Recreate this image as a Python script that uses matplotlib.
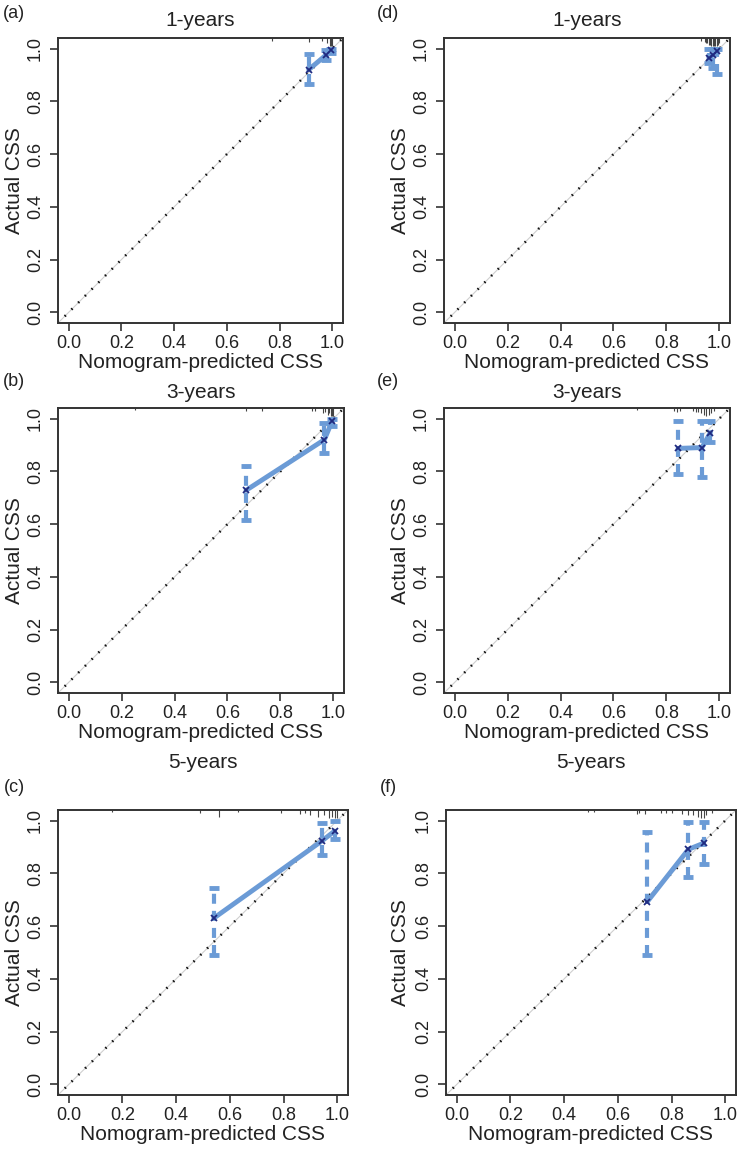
import matplotlib

matplotlib.use("Agg")
import matplotlib.pyplot as plt

plt.rcParams["font.family"] = ["Liberation Sans", "DejaVu Sans"]

W, H = 747, 1149

TAGS = ["(a)", "(b)", "(c)", "(d)", "(e)", "(f)"]
TITLES = ["1-years", "3-years", "5-years", "1-years", "3-years", "5-years"]
TICKS = [0.0, 0.2, 0.4, 0.6, 0.8, 1.0]
TICK_LABELS = ["0.0", "0.2", "0.4", "0.6", "0.8", "1.0"]
XLABEL = "Nomogram-predicted CSS"
YLABEL = "Actual CSS"

# calibration groups: predicted, observed, lower / upper CI
PRED_A = [0.91, 0.975, 0.995]
OBS_A = [0.92, 0.975, 0.995]
LO_A = [0.864, 0.955, 0.985]
HI_A = [0.98, 0.995, 1.0]

PRED_B = [0.67, 0.966, 0.995]
OBS_B = [0.728, 0.92, 0.99]
LO_B = [0.615, 0.868, 0.97]
HI_B = [0.82, 0.985, 1.0]

PRED_C = [0.54, 0.943, 0.99]
OBS_C = [0.63, 0.923, 0.96]
LO_C = [0.49, 0.87, 0.93]
HI_C = [0.745, 0.99, 1.0]

PRED_D = [0.96, 0.975, 0.99]
OBS_D = [0.965, 0.975, 0.99]
LO_D = [0.945, 0.925, 0.905]
HI_D = [1.0, 1.0, 1.0]

PRED_E = [0.844, 0.934, 0.966]
OBS_E = [0.887, 0.89, 0.947]
LO_E = [0.79, 0.78, 0.91]
HI_E = [0.99, 0.99, 0.99]

PRED_F = [0.71, 0.863, 0.919]
OBS_F = [0.693, 0.891, 0.914]
LO_F = [0.49, 0.785, 0.835]
HI_F = [0.958, 0.996, 0.996]

# rug of predicted values along the top edge (position, tick length)
RUG_A = [0.77, 0.91, 0.96, 0.98, 0.99, 0.995, 1.0]
RUG_A_LEN = [0.01, 0.015, 0.012, 0.02, 0.03, 0.03, 0.03]
RUG_B = [0.25, 0.67, 0.73, 0.92, 0.93, 0.96, 0.97, 0.98, 0.985, 0.99, 0.995, 1.0]
RUG_B_LEN = [0.008, 0.01, 0.012, 0.012, 0.012, 0.02, 0.015, 0.025, 0.02, 0.03, 0.03, 0.03]
RUG_C = [0.16, 0.49, 0.56, 0.63, 0.79, 0.86, 0.88, 0.9, 0.93, 0.95, 0.97, 0.98, 0.99, 1.0]
RUG_C_LEN = [0.008, 0.01, 0.025, 0.008, 0.01, 0.015, 0.01, 0.02, 0.025, 0.02, 0.03, 0.025, 0.03, 0.03]
RUG_D = [0.93, 0.945, 0.95, 0.955, 0.96, 0.965, 0.97, 0.975, 0.98, 0.985, 0.99, 0.995, 1.0]
RUG_D_LEN = [0.01, 0.015, 0.02, 0.02, 0.025, 0.025, 0.03, 0.03, 0.03, 0.03, 0.03, 0.025, 0.02]
RUG_E = [0.69, 0.83, 0.84, 0.85, 0.9, 0.91, 0.92, 0.93, 0.94, 0.95, 0.96, 0.97, 0.98]
RUG_E_LEN = [0.008, 0.012, 0.015, 0.01, 0.012, 0.015, 0.015, 0.02, 0.025, 0.03, 0.025, 0.02, 0.012]
RUG_F = [0.49, 0.51, 0.67, 0.68, 0.7, 0.76, 0.78, 0.8, 0.84, 0.86, 0.88, 0.9, 0.91, 0.92, 0.93, 0.95]
RUG_F_LEN = [0.008, 0.008, 0.015, 0.012, 0.015, 0.01, 0.012, 0.012, 0.015, 0.02, 0.02, 0.025, 0.03, 0.03, 0.02, 0.012]

PANELS = [
    (PRED_A, OBS_A, LO_A, HI_A, RUG_A, RUG_A_LEN),
    (PRED_B, OBS_B, LO_B, HI_B, RUG_B, RUG_B_LEN),
    (PRED_C, OBS_C, LO_C, HI_C, RUG_C, RUG_C_LEN),
    (PRED_D, OBS_D, LO_D, HI_D, RUG_D, RUG_D_LEN),
    (PRED_E, OBS_E, LO_E, HI_E, RUG_E, RUG_E_LEN),
    (PRED_F, OBS_F, LO_F, HI_F, RUG_F, RUG_F_LEN),
]

# pixel boxes (left, top, right, bottom) and text rows
BOXES = [
    (58, 38, 343, 323),
    (58, 408, 344, 693),
    (58, 810, 348, 1095),
    (444, 38, 730, 323),
    (444, 408, 730, 693),
    (446, 810, 736, 1095),
]
TITLE_Y = [20, 393, 762, 20, 393, 762]
TAG_Y = [13, 382, 787, 13, 382, 787]
TAG_X = [14, 14, 14, 388, 388, 388]
YLAB_X = [15, 15, 15, 401, 401, 401]

BLUE = "#6b9bd6"
NAVY = "#1f2a80"
INK = "#222222"
LIM = (-0.04, 1.04)


def fx(px):
    return px / W


def fy(py):
    return 1 - py / H


fig = plt.figure(figsize=(W / 100, H / 100), dpi=100)

for i, (pred, obs, lo, hi, rug, rug_len) in enumerate(PANELS):
    l, t, r, b = BOXES[i]
    ax = fig.add_axes([fx(l), fy(b), (r - l) / W, (b - t) / H])
    ax.set_xlim(*LIM)
    ax.set_ylim(*LIM)

    # ideal line: faint grey under black dots
    ax.plot(LIM, LIM, color="#cfcfcf", lw=0.8, zorder=1)
    ax.plot(LIM, LIM, color="#111111", lw=1.8, ls=(0, (0.6, 3.2)), zorder=2)

    # rug of predictions hanging from the top
    ax.vlines(rug, [LIM[1] - h for h in rug_len], LIM[1], color="#444444", lw=0.8, zorder=2)

    # confidence bars
    for x, y0, y1 in zip(pred, lo, hi):
        ax.plot([x, x], [y0, y1], color=BLUE, lw=3, ls=(0, (2.4, 1.7)), solid_capstyle="butt", zorder=3)
        ax.plot([x, x], [y0, y1], ls="none", marker="_", ms=6.5, mew=3.5, color=BLUE, zorder=3)

    ax.plot(pred, obs, color=BLUE, lw=3.5, solid_capstyle="round", zorder=4)
    ax.plot(pred, obs, ls="none", marker="x", ms=5, mew=1.3, color=NAVY, zorder=5)

    ax.set_xticks(TICKS)
    ax.set_xticklabels(TICK_LABELS)
    ax.set_yticks(TICKS)
    ax.set_yticklabels(TICK_LABELS, rotation=90, va="center")
    ax.tick_params(direction="out", length=6, width=1.1, color=INK, labelsize=13, labelcolor=INK, pad=3)
    ax.tick_params(axis="y", pad=4)
    for s in ax.spines.values():
        s.set_color("#333333")
        s.set_linewidth(1.4)

    cx = (l + r) / 2
    cy = (t + b) / 2
    fig.text(fx(cx), fy(TITLE_Y[i]), TITLES[i], ha="center", va="center", fontsize=15, color=INK)
    fig.text(fx(cx), fy(b + 40), XLABEL, ha="center", va="center", fontsize=15, color=INK)
    fig.text(fx(YLAB_X[i]), fy(cy), YLABEL, ha="center", va="center", rotation=90, fontsize=15, color=INK)
    fig.text(fx(TAG_X[i]), fy(TAG_Y[i]), TAGS[i], ha="center", va="center", fontsize=13, color=INK)

fig.savefig("out.png", dpi=100, facecolor="white")
